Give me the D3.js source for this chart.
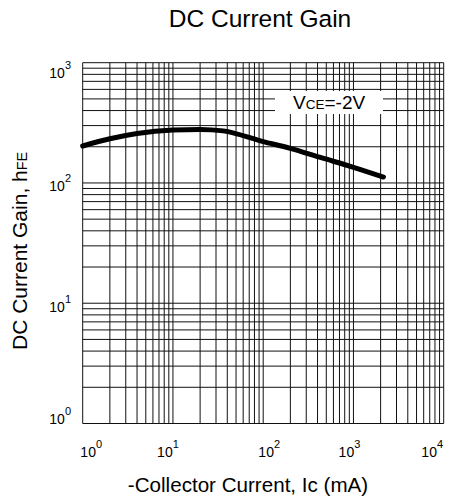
<!DOCTYPE html>
<html><head><meta charset="utf-8">
<script src="https://cdn.jsdelivr.net/npm/d3@7"></script>
<style>body{margin:0;background:#fff}svg{display:block}text{font-family:"Liberation Sans",Arial,sans-serif;fill:#000}</style>
</head><body>
<svg id="c" width="451" height="500"></svg>
<script>
// data
const collectorCurrent = [1, 2, 4, 10, 20, 36, 100, 200, 430, 1000, 2150];
const currentGain      = [203, 233, 258, 276, 279, 271, 221, 194, 163, 135, 112];
const xTickExp = [0, 1, 2, 3, 4];
const yTickExp = [0, 1, 2, 3];
const legendText = ["V", "CE", "=-2V"];

const svg = d3.select("#c");
const m = {l: 82.7, r: 443.7, t: 62.7, b: 423.5};
const x = d3.scaleLog().domain([1, 1e4]).range([m.l, m.r]);
const y = d3.scaleLog().domain([1, 1e3]).range([m.b, m.t]);

// grid
const xs = [];
for (let e = 0; e < 4; e++) for (let k = 1; k <= 10; k++) xs.push(k * Math.pow(10, e));
const ys = [];
for (let e = 0; e < 3; e++) for (let k = 1; k <= 10; k++) ys.push(k * Math.pow(10, e));
const g = svg.append("g");
g.selectAll(".vx").data(Array.from(new Set(xs))).enter().append("line")
  .attr("x1", d => x(d)).attr("x2", d => x(d)).attr("y1", m.t).attr("y2", m.b)
  .attr("stroke", "#111").attr("stroke-width", 1);
g.selectAll(".hy").data(Array.from(new Set(ys))).enter().append("line")
  .attr("y1", d => y(d)).attr("y2", d => y(d)).attr("x1", m.l).attr("x2", m.r)
  .attr("stroke", "#111").attr("stroke-width", 1);

// legend box
svg.append("rect").attr("x", 275).attr("y", 91).attr("width", 108).attr("height", 23).attr("fill", "#fff");
const lt = svg.append("text").attr("x", 293).attr("y", 109.3).attr("font-size", 19);
lt.append("tspan").text(legendText[0]);
lt.append("tspan").attr("font-size", 13.5).text(legendText[1]);
lt.append("tspan").text(legendText[2]);

// curve
const pts = collectorCurrent.map((c, i) => [c, currentGain[i]]);
svg.append("path").datum(pts)
  .attr("d", d3.line().x(d => x(d[0])).y(d => y(d[1])).curve(d3.curveMonotoneX))
  .attr("fill", "none").attr("stroke", "#000").attr("stroke-width", 5).attr("stroke-linecap", "round");

// tick labels
const xOff = [8.5, -5, 6, -4, -11.5];
xTickExp.forEach((e, i) => {
  const t = svg.append("text").attr("x", x(Math.pow(10, e)) + xOff[i]).attr("y", 457).attr("text-anchor", "middle").attr("font-size", 14);
  t.append("tspan").text("10");
  t.append("tspan").attr("font-size", 11).attr("dy", -9).text(e);
});
const yOff = [0, 9, 8.4, 15.6];
yTickExp.forEach((e, i) => {
  const t = svg.append("text").attr("x", 71).attr("y", y(Math.pow(10, e)) + yOff[i]).attr("text-anchor", "end").attr("font-size", 14);
  t.append("tspan").text("10");
  t.append("tspan").attr("font-size", 11).attr("dy", -9).text(e);
});

// titles
svg.append("text").attr("x", 260).attr("y", 27).attr("text-anchor", "middle").attr("font-size", 24.5).text("DC Current Gain");
svg.append("text").attr("x", 248).attr("y", 492).attr("text-anchor", "middle").attr("font-size", 20.6).text("-Collector Current, Ic (mA)");
const yl = svg.append("text").attr("transform", "translate(27,350) rotate(-90)").attr("text-anchor", "start").attr("font-size", 21);
yl.append("tspan").text("DC Current Gain, h");
yl.append("tspan").attr("font-size", 14.5).text("FE");
</script>
</body></html>
